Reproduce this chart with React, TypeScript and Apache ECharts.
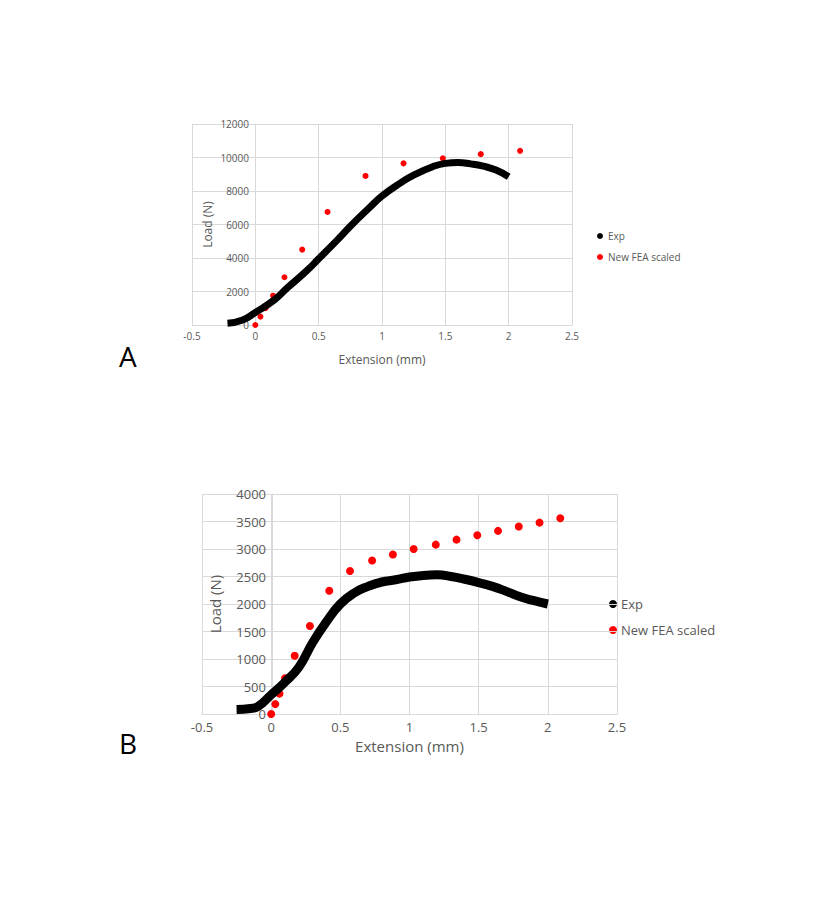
import React, { useEffect, useRef } from "react";
import * as echarts from "echarts";

const expA: number[][] = [
  [-0.22, 100], [-0.1, 300], [0, 750], [0.15, 1500], [0.25, 2200], [0.4, 3200],
  [0.5, 3950], [0.65, 5100], [0.75, 5900], [0.9, 7000], [1.0, 7700], [1.15, 8500],
  [1.25, 8950], [1.4, 9450], [1.5, 9650], [1.6, 9700], [1.7, 9620], [1.8, 9480],
  [1.9, 9250], [2.0, 8850],
];
const feaA: number[][] = [
  [0, 0], [0.04, 500], [0.08, 1000], [0.14, 1750], [0.23, 2850], [0.37, 4500],
  [0.57, 6750], [0.87, 8900], [1.17, 9650], [1.48, 9950], [1.78, 10200], [2.09, 10400],
];
const expB: number[][] = [
  [-0.25, 80], [-0.15, 100], [-0.1, 130], [0, 350], [0.1, 580], [0.2, 850],
  [0.3, 1300], [0.4, 1680], [0.5, 2000], [0.6, 2200], [0.7, 2320], [0.8, 2400],
  [0.9, 2440], [1.0, 2490], [1.1, 2520], [1.2, 2530], [1.3, 2500], [1.4, 2450],
  [1.5, 2390], [1.6, 2320], [1.7, 2230], [1.8, 2130], [1.9, 2060], [2.0, 2000],
];
const feaB: number[][] = [
  [0, 0], [0.03, 180], [0.06, 370], [0.1, 650], [0.17, 1060], [0.28, 1600],
  [0.42, 2240], [0.57, 2600], [0.73, 2790], [0.88, 2900], [1.03, 3000], [1.19, 3080],
  [1.34, 3170], [1.49, 3250], [1.64, 3330], [1.79, 3410], [1.94, 3480], [2.09, 3560],
];

const FONT = "Open Sans";
const grey = "#595959";

export default function App() {
  const ref = useRef<HTMLDivElement>(null);
  useEffect(() => {
    if (!ref.current) return;
    const chart = echarts.init(ref.current, undefined, { renderer: "svg" });
    const xAx = (gi: number, fs: number, nameGap: number) => ({
      type: "value", gridIndex: gi, min: -0.5, max: 2.5, interval: 0.5,
      name: "Extension (mm)", nameLocation: "middle", nameGap,
      nameTextStyle: { color: grey, fontSize: fs + 2, fontFamily: FONT },
      axisLine: { show: true, onZero: false, lineStyle: { color: "#d9d9d9" } },
      axisTick: { show: false },
      axisLabel: { color: grey, fontSize: fs, fontFamily: FONT, margin: 6 },
      splitLine: { show: true, lineStyle: { color: "#d9d9d9" } },
    });
    const yAx = (gi: number, max: number, iv: number, fs: number, nameGap: number, offset: number) => ({
      type: "value", gridIndex: gi, min: 0, max, interval: iv, offset,
      name: "Load (N)", nameLocation: "middle", nameGap,
      nameTextStyle: { color: grey, fontSize: fs + 2, fontFamily: FONT },
      axisLine: { show: true, lineStyle: { color: "#d9d9d9" } },
      axisTick: { show: false },
      axisLabel: { color: grey, fontSize: fs, fontFamily: FONT, margin: 6, formatter: (v: number) => String(v) },
      splitLine: { show: true, lineStyle: { color: "#d9d9d9" } },
    });
    const legend = (x: number, y: number, gap: number, fs: number, r: number) => [
      { type: "circle", shape: { cx: x, cy: y, r }, style: { fill: "#000" } },
      { type: "text", x: x + 8, y, style: { text: "Exp", fill: grey, font: `${fs}px "${FONT}"`, verticalAlign: "middle" } },
      { type: "circle", shape: { cx: x, cy: y + gap, r }, style: { fill: "#ff0000" } },
      { type: "text", x: x + 8, y: y + gap, style: { text: "New FEA scaled", fill: grey, font: `${fs}px "${FONT}"`, verticalAlign: "middle" } },
    ];
    chart.setOption({
      animation: false,
      backgroundColor: "#fff",
      grid: [
        { left: 192, width: 380, top: 124, height: 201 },
        { left: 202, width: 415, top: 494, height: 220 },
      ],
      xAxis: [xAx(0, 10, 28), xAx(1, 13, 24)],
      yAxis: [yAx(0, 12000, 2000, 10, 42, -63), yAx(1, 4000, 500, 13, 50, -70)],
      series: [
        { type: "line", xAxisIndex: 0, yAxisIndex: 0, data: expA, smooth: true, symbol: "none", lineStyle: { color: "#000", width: 7 } },
        { type: "scatter", xAxisIndex: 0, yAxisIndex: 0, data: feaA, symbolSize: 6, itemStyle: { color: "#ff0000", opacity: 1 } },
        { type: "line", xAxisIndex: 1, yAxisIndex: 1, data: expB, smooth: true, symbol: "none", lineStyle: { color: "#000", width: 9 } },
        { type: "scatter", xAxisIndex: 1, yAxisIndex: 1, data: feaB, symbolSize: 8, itemStyle: { color: "#ff0000", opacity: 1 } },
      ],
      graphic: [
        ...legend(600, 236, 21, 10, 3),
        ...legend(613, 604, 26, 13, 4),
        { type: "text", x: 119, y: 342, style: { text: "A", fill: "#000", font: `28px "${FONT}"` } },
        { type: "text", x: 119, y: 729, style: { text: "B", fill: "#000", font: `28px "${FONT}"` } },
      ],
    });
    return () => chart.dispose();
  }, []);
  return <div ref={ref} style={{ position: "fixed", left: 0, top: 0, width: 828, height: 909 }} />;
}
